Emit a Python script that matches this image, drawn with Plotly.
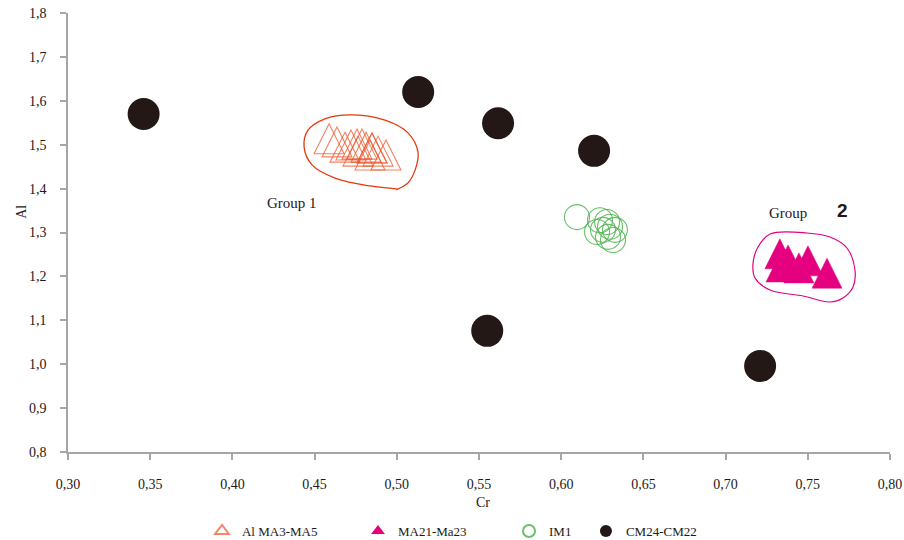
import plotly.graph_objects as go

# ---- data -------------------------------------------------------------
# Al MA3-MA5 (open triangles, Group 1)
al_ma_cr = [0.4588, 0.4636, 0.4685, 0.4721, 0.4758, 0.4788, 0.4813, 0.4849, 0.4849,
            0.4886, 0.4934, 0.4764, 0.4837]
al_ma_al = [1.502, 1.495, 1.483, 1.488, 1.490, 1.490, 1.483, 1.481, 1.481,
            1.474, 1.465, 1.474, 1.465]

# MA21-Ma23 (filled triangles, Group 2)
ma21_cr = [0.733, 0.7337, 0.738, 0.7446, 0.7501, 0.7617]
ma21_al = [1.240, 1.210, 1.226, 1.208, 1.224, 1.196]

# IM1 (open circles)
im1_cr = [0.6096, 0.6236, 0.6279, 0.6297, 0.6254, 0.6327, 0.6285, 0.6315, 0.6218]
im1_al = [1.335, 1.328, 1.324, 1.313, 1.306, 1.306, 1.290, 1.283, 1.301]

# CM24-CM22 (filled circles)
cm_cr = [0.346, 0.513, 0.5616, 0.620, 0.555, 0.721]
cm_al = [1.570, 1.620, 1.549, 1.486, 1.076, 0.996]

# hand-drawn outlines around the two groups
loop1_cr = [0.5007, 0.4837, 0.4624, 0.4484, 0.4436, 0.4460, 0.4563, 0.4715,
            0.4928, 0.5068, 0.5129, 0.5111, 0.5068, 0.4995]
loop1_al = [1.399, 1.406, 1.424, 1.454, 1.495, 1.533, 1.559, 1.568,
            1.556, 1.527, 1.483, 1.442, 1.413, 1.397]
loop2_cr = [0.7270, 0.7495, 0.7635, 0.7738, 0.7787, 0.7775, 0.7714, 0.7635,
            0.7471, 0.7270, 0.7179, 0.7167, 0.7197, 0.7270]
loop2_al = [1.2966, 1.2989, 1.2897, 1.2647, 1.2146, 1.1759, 1.1508, 1.1417,
            1.1554, 1.1690, 1.1964, 1.2305, 1.2670, 1.2966]

SERIF = "Liberation Serif"
INK = "#231815"
AXIS = "#a6a6a6"
ORANGE = "rgba(236,84,40,0.72)"
PINK = "#e4007f"
GREEN = "rgba(80,180,80,0.85)"

fig = go.Figure()

# outlines
fig.add_trace(go.Scatter(x=loop1_cr, y=loop1_al, mode="lines",
                         line=dict(color="#e8380d", width=1.3, shape="spline"),
                         showlegend=False, hoverinfo="skip"))
fig.add_trace(go.Scatter(x=loop2_cr, y=loop2_al, mode="lines",
                         line=dict(color=PINK, width=1.2, shape="spline"),
                         showlegend=False, hoverinfo="skip"))

# triangles: drawn as pixel-sized paths anchored at each data point
TRI = "M-15,-10 L15,-10 L0,20 Z"
shapes = []
for cx, cy in zip(al_ma_cr, al_ma_al):
    shapes.append(dict(type="path", xref="x", yref="y", xsizemode="pixel",
                       ysizemode="pixel", xanchor=cx, yanchor=cy, path=TRI,
                       line=dict(color=ORANGE, width=1.1),
                       fillcolor="rgba(0,0,0,0)"))
for cx, cy in zip(ma21_cr, ma21_al):
    shapes.append(dict(type="path", xref="x", yref="y", xsizemode="pixel",
                       ysizemode="pixel", xanchor=cx, yanchor=cy, path=TRI,
                       line=dict(color=PINK, width=0.5), fillcolor=PINK))

# legend entries for the triangle series
fig.add_trace(go.Scatter(x=[None], y=[None], mode="markers", name="Al MA3-MA5",
                         marker=dict(symbol="triangle-up-open", color="#f4866a",
                                     size=14, line=dict(width=1.5, color="#f4866a")),
                         legend="legend"))
fig.add_trace(go.Scatter(x=[None], y=[None], mode="markers", name="MA21-Ma23",
                         marker=dict(symbol="triangle-up", color=PINK, size=14),
                         legend="legend2"))

# circles
fig.add_trace(go.Scatter(x=im1_cr, y=im1_al, mode="markers", name="IM1",
                         marker=dict(symbol="circle-open", size=25, color=GREEN,
                                     line=dict(width=1.1, color=GREEN)),
                         legend="legend3"))
fig.add_trace(go.Scatter(x=cm_cr, y=cm_al, mode="markers", name="CM24-CM22",
                         marker=dict(symbol="circle", size=32, color=INK,
                                     line=dict(width=0)),
                         legend="legend4"))

leg_common = dict(orientation="h", yanchor="middle", y=-0.18, xanchor="left",
                  itemsizing="constant", bgcolor="rgba(0,0,0,0)",
                  font=dict(family=SERIF, size=13, color=INK))

axis_common = dict(showgrid=False, zeroline=False, showline=True, linecolor=AXIS,
                   linewidth=1.5, ticks="outside", ticklen=6, tickcolor=AXIS,
                   tickwidth=1.5, tickfont=dict(family=SERIF, size=14, color=INK))

fig.update_layout(
    width=904, height=540,
    margin=dict(l=68, r=14, t=13, b=88, autoexpand=False),
    paper_bgcolor="white", plot_bgcolor="white",
    separators=", ",
    shapes=shapes,
    xaxis=dict(range=[0.30, 0.80], tick0=0.30, dtick=0.05, tickformat=".2f",
               ticklabelstandoff=12, **axis_common),
    yaxis=dict(range=[0.8, 1.8], tick0=0.8, dtick=0.1, tickformat=".1f",
               ticklabelstandoff=11, **axis_common),
    legend=dict(x=0.1630, **leg_common),
    legend2=dict(x=0.3528, **leg_common),
    legend3=dict(x=0.5365, **leg_common),
    legend4=dict(x=0.6301, **leg_common),
    annotations=[
        dict(text="Cr", xref="paper", yref="paper", x=0.505, y=-0.116,
             xanchor="center", yanchor="middle",
             showarrow=False, font=dict(family=SERIF, size=14, color=INK)),
        dict(text="Al", xref="paper", yref="paper", x=-0.056, y=0.547,
             xanchor="center", yanchor="middle",
             textangle=-90, showarrow=False,
             font=dict(family=SERIF, size=14, color=INK)),
        dict(text="Group 1", xref="x", yref="y", x=0.4363, y=1.367,
             showarrow=False, font=dict(family=SERIF, size=15, color=INK)),
        dict(text="Group", xref="x", yref="y", x=0.738, y=1.344,
             showarrow=False, font=dict(family=SERIF, size=15, color=INK)),
        dict(text="<b>2</b>", xref="x", yref="y", x=0.7708, y=1.349,
             showarrow=False, font=dict(family="Liberation Sans", size=19, color=INK)),
    ],
)

fig.write_html("out.html")
